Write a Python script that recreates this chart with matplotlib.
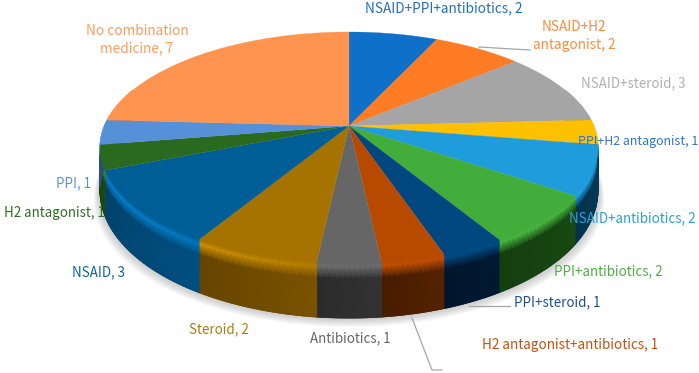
import numpy as np
import matplotlib
matplotlib.use("Agg")
import matplotlib.pyplot as plt

plt.rcParams['font.family'] = ['Noto Sans CJK SC', 'DejaVu Sans']

names = ["NSAID+PPI+antibiotics", "NSAID+H2\nantagonist", "NSAID+steroid", "PPI+H2 antagonist",
         "NSAID+antibiotics", "PPI+antibiotics", "PPI+steroid", "H2 antagonist+antibiotics",
         "Antibiotics", "Steroid", "NSAID", "H2 antagonist", "PPI", "No combination\nmedicine"]
values = [2, 2, 3, 1, 2, 2, 1, 1, 1, 2, 3, 1, 1, 7]
top_cols = ["#0E70C8", "#FF7B24", "#A5A5A5", "#FFC000", "#1F9CDB", "#43AD3C", "#004780",
            "#B84A00", "#666666", "#A67300", "#005E97", "#2A6A1E", "#5590D8", "#FF9450"]
wall_cols = ["#08406F", "#8A4212", "#555555", "#7A5C00", "#043C5A", "#184A12", "#001A33",
             "#552200", "#333333", "#7A5200", "#004F80", "#1C4A14", "#2F5488", "#8A4F28"]
text_cols = ["#1F6FC4", "#FF8A3C", "#B0B0B0", "#2F75C5", "#2A9FDB", "#4CAF43", "#1F4E8C",
             "#C5500F", "#666666", "#B07A10", "#0B659F", "#2E6E22", "#5B93D9", "#FF9C5C"]
label_x = [444, 574, 633, 638, 632, 608, 557, 570, 350, 219, 98, 54, 74, 137]
label_y = [8, 36, 83, 142, 218, 271, 302, 345, 338, 329, 272, 213, 183, 40]
label_sz = [9.8, 9.8, 9.6, 8.9, 9.6, 9.6, 9.6, 9.7, 9.6, 9.6, 9.6, 9.6, 9.6, 9.8]

cx, cy = 349, 126
A, B, q = 244.6, 111.5, 0.186


def project(theta, drop=0.0, grow=0.0):
    u = np.sin(theta)
    v = np.cos(theta)
    w = 1 + q * v
    x = cx + (A + grow) * u / w
    y = cy - B * v / w
    d = (40 + 15 * np.clip(-v, 0, 1)) * drop
    return x, y + d


def hex2rgb(c):
    return np.array(matplotlib.colors.to_rgb(c))


fig = plt.figure(figsize=(6.99, 3.73), dpi=100)
ax = fig.add_axes([0, 0, 1, 1])
ax.set_xlim(0, 699)
ax.set_ylim(373, 0)
ax.axis('off')

edges = np.cumsum([0] + values) / sum(values) * 2 * np.pi

# soft shadow under the wall
t = np.linspace(np.radians(75), np.radians(285), 200)
for k in range(9, 0, -1):
    x1, y1 = project(t, 1.0, k * 0.7)
    x0, y0 = project(t[::-1], 0.0, 0)
    ax.fill(np.r_[x1, x0], np.r_[y1 + k, y0], color='#808080', alpha=0.05, lw=0, zorder=1)

# side wall, drawn as a fine mesh so it can carry the bevel and the shading
f = np.array([0, 0.08, 0.28, 1.0])
for i in range(len(values)):
    a, b = edges[i], edges[i + 1]
    if b < np.radians(70) or a > np.radians(290):
        continue
    n = 8 * values[i] + 4
    th = np.linspace(max(a, np.radians(70)), min(b, np.radians(290)), n + 1)
    top = hex2rgb(top_cols[i])
    wall = hex2rgb(wall_cols[i])
    X = np.zeros((len(f), len(th)))
    Y = np.zeros((len(f), len(th)))
    C = np.zeros((len(f), len(th), 3))
    for j, fr in enumerate(f):
        X[j], Y[j] = project(th, fr)
    for m in range(len(th)):
        side = max(0, -np.sin(th[m]))
        lift = np.clip(top * (1.05 + 0.35 * side) + 0.03 * side, 0, 1)
        body = wall * (1.0 - 0.16 * m / (len(th) - 1))
        C[0, m] = top
        C[1, m] = lift
        C[2, m] = body
        C[3, m] = body
    ax.pcolormesh(X, Y, C, shading='gouraud', zorder=2)
    # smooth the lower rim of the mesh
    ax.plot(X[-1], Y[-1], color=wall * 0.92, lw=0.7, zorder=2)

# top face
for i in range(len(values)):
    n = 8 * values[i] + 4
    th = np.linspace(edges[i], edges[i + 1], n)
    x, y = project(th)
    ax.fill(np.r_[cx, x], np.r_[cy, y], color=top_cols[i], lw=0.2, ec=top_cols[i], zorder=3)

# leader lines
ax.plot([479, 530], [47, 50], color='#A6A6A6', lw=0.9, zorder=4)
ax.plot([469, 510], [306, 306], color='#A6A6A6', lw=0.9, zorder=4)
ax.plot([412, 432, 442], [318, 370, 370], color='#A6A6A6', lw=0.9, zorder=4)

for i in range(len(values)):
    ax.text(label_x[i], label_y[i], "%s, %d" % (names[i], values[i]), color=text_cols[i],
            fontsize=label_sz[i], ha='center', va='center', linespacing=1.3, zorder=5)

fig.savefig("out.png", dpi=100)
